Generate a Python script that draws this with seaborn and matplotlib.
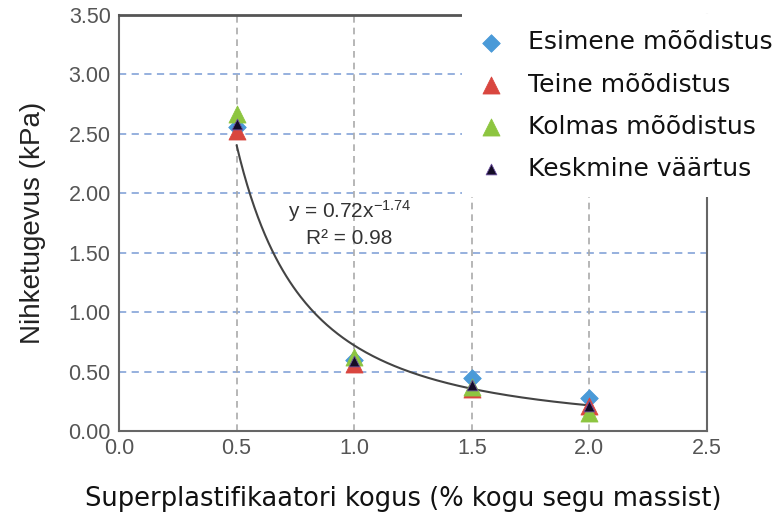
import numpy as np
import pandas as pd
import matplotlib
matplotlib.use("Agg")
import matplotlib.pyplot as plt
import seaborn as sns

# ---- data ----
dosage = [0.5, 1.0, 1.5, 2.0]
esimene = [2.56, 0.60, 0.45, 0.28]
teine = [2.52, 0.56, 0.35, 0.21]
kolmas = [2.67, 0.62, 0.37, 0.15]
keskmine = [2.58, 0.59, 0.39, 0.21]
series_names = ["Esimene mõõdistus", "Teine mõõdistus", "Kolmas mõõdistus", "Keskmine väärtus"]
fit_a = 0.72
fit_b = -1.74
fit_r2 = 0.98
x_ticks = [0.0, 0.5, 1.0, 1.5, 2.0, 2.5]
y_ticks = [0.0, 0.5, 1.0, 1.5, 2.0, 2.5, 3.0, 3.5]

sns.set_style("white")
plt.rcParams["font.family"] = ["Liberation Sans", "DejaVu Sans"]
plt.rcParams["mathtext.fontset"] = "custom"
plt.rcParams["mathtext.rm"] = "Liberation Sans"
plt.rcParams["mathtext.it"] = "Liberation Sans"
plt.rcParams["mathtext.default"] = "regular"

fig = plt.figure(figsize=(7.78, 5.19), dpi=100)
ax = fig.add_axes([119 / 778, 1 - 431 / 519, (707 - 119) / 778, (431 - 15) / 519])

# grid
for yv in y_ticks[1:-1]:
    ax.axhline(yv, color="#8eaadb", lw=1.3, ls=(0, (4, 3)), zorder=0)
for xv in x_ticks[1:-1]:
    ax.axvline(xv, color="#aaaaaa", lw=1.2, ls=(0, (4, 3)), zorder=0)

# fitted power curve
xf = np.linspace(dosage[0], dosage[-1], 200)
fit_df = pd.DataFrame({"x": xf, "y": fit_a * xf ** fit_b})
sns.lineplot(data=fit_df, x="x", y="y", ax=ax, color="#444444", lw=1.5, zorder=2)

styles = [
    dict(marker="D", color="#4a9ad8", s=80, edgecolor="#4a9ad8"),
    dict(marker="^", color="#d9463f", s=150, edgecolor="#d9463f"),
    dict(marker="^", color="#8dc540", s=150, edgecolor="#8dc540"),
    dict(marker="^", color="#140c26", s=60, edgecolor="#6b4fa0"),
]
for vals, name, st in zip([esimene, teine, kolmas, keskmine], series_names, styles):
    df = pd.DataFrame({"x": dosage, "y": vals})
    sns.scatterplot(data=df, x="x", y="y", ax=ax, label=name, linewidth=0.6, zorder=3, **st)

handles, labels = ax.get_legend_handles_labels()
ax.get_legend().remove()

ax.set_xlim(0, 2.5)
ax.set_ylim(0, 3.5)
ax.set_xticks(x_ticks)
ax.set_xticklabels([f"{v:.1f}" for v in x_ticks])
ax.set_yticks(y_ticks)
ax.set_yticklabels([f"{v:.2f}" for v in y_ticks])
ax.tick_params(axis="both", length=0, labelsize=15.5, labelcolor="#555555")
ax.tick_params(axis="y", pad=6)
ax.tick_params(axis="x", pad=5)

for side in ["left", "bottom", "right"]:
    ax.spines[side].set_color("#666666")
    ax.spines[side].set_linewidth(1.5)
ax.spines["top"].set_color("#555555")
ax.spines["top"].set_linewidth(2.0)

ax.set_ylabel("Nihketugevus (kPa)", fontsize=20, color="#222222", labelpad=16)
ax.set_xlabel("Superplastifikaatori kogus (% kogu segu massist)", fontsize=18.5,
              family="DejaVu Sans", color="#111111")
ax.xaxis.set_label_coords((403 - 119) / 588, -(506 - 431) / 416)
ax.xaxis.label.set_va("baseline")

ax.text(0.98, 1.85, f"y = {fit_a}x$^{{{fit_b}}}$", fontsize=15, color="#333333",
        ha="center", va="center", zorder=4)
ax.text(0.98, 1.62, f"R² = {fit_r2}", fontsize=15, color="#333333",
        ha="center", va="center", zorder=4)

leg = fig.legend(handles, labels, loc="upper left",
                 bbox_to_anchor=(462 / 778, 1 - 14 / 519), bbox_transform=fig.transFigure,
                 frameon=True, facecolor="white", edgecolor="none", framealpha=1,
                 fancybox=False, borderaxespad=0, borderpad=0.65, handlelength=1.0,
                 handletextpad=1.0, labelspacing=0.73, prop={"family": "DejaVu Sans", "size": 18})
for t in leg.get_texts():
    t.set_color("#111111")

fig.savefig("out.png", dpi=100)
